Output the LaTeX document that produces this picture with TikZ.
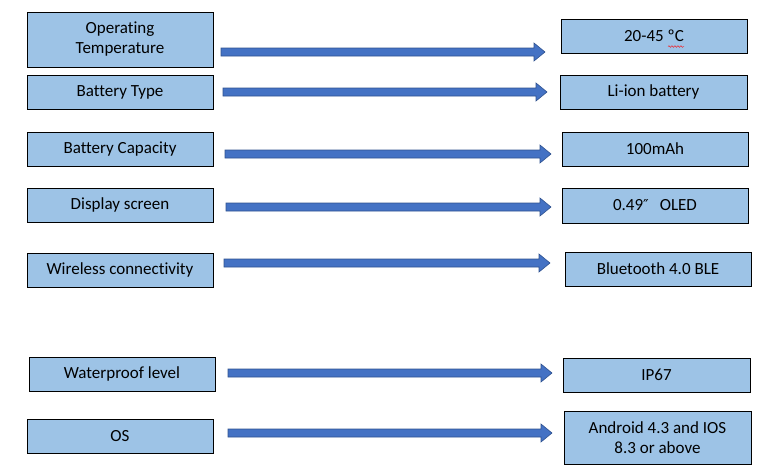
\documentclass[tikz,border=0pt]{standalone}
\usepackage{fontspec}
\setmainfont[Ligatures={NoCommon}]{Carlito}
\newfontfamily\symfont{DejaVu Sans}
\usetikzlibrary{calc,decorations.pathmorphing}
\definecolor{boxblue}{HTML}{9DC3E6}
\definecolor{arrowblue}{HTML}{4472C4}
\definecolor{arrowedge}{HTML}{2F528F}
\newcommand{\blockarrow}[2]{\draw[blockarrow] ($(#1)+(0,-4)$) -- ($(#2)+(-11,-4)$) -- ($(#2)+(-11,-9)$) -- (#2) -- ($(#2)+(-11,9)$) -- ($(#2)+(-11,4)$) -- ($(#1)+(0,4)$) -- cycle;}
\begin{document}
\begin{tikzpicture}[x=1pt,y=-1pt,
 box/.style={draw=black,line width=0.8pt,fill=boxblue,minimum width=186pt,minimum height=34pt,inner sep=0pt,align=center,font=\fontsize{17}{20}\selectfont},
 blockarrow/.style={fill=arrowblue,draw=arrowedge,line width=0.6pt,line join=miter}]
 \useasboundingbox (0,0) rectangle (779,474);
 \node[box,minimum height=55pt] (optemp) at (120,39.5) {Operating\\Temperature};
 \node[box] (battype) at (120,92) {Battery Type};
 \node[box] (batcap) at (120,149) {Battery Capacity};
 \node[box] (display) at (120,205) {Display screen};
 \node[box] (wireless) at (120,270) {Wireless connectivity};
 \node[box] (waterproof) at (122,374) {Waterproof level};
 \node[box] (os) at (120,436) {OS};
 \node[box] (tempval) at (654,36) {20-45 ºC};
 \node[box,minimum width=187pt] (typeval) at (653.5,92) {Li-ion battery};
 \node[box] (capval) at (655,149) {100mAh};
 \node[box,minimum height=35pt] (displayval) at (655,205.5) {0.49{\symfont\fontsize{15}{16}\selectfont″}\hspace{11pt}OLED};
 \node[box] (wirelessval) at (658,269) {Bluetooth 4.0 BLE};
 \node[box,minimum width=187pt] (waterval) at (656.5,375) {IP67};
 \node[box,minimum width=187pt,minimum height=53pt] (osval) at (657.5,437.5) {Android 4.3 and IOS\\8.3 or above};
 \draw[red,line width=0.4pt,decorate,decoration={snake,amplitude=0.8pt,segment length=3pt}] (668,46.5) -- (684,46.5);
 \coordinate (s1) at (221,52); \coordinate (e1) at (545,52);
 \coordinate (s2) at (223,92); \coordinate (e2) at (547,92);
 \coordinate (s3) at (225,154); \coordinate (e3) at (551,154);
 \coordinate (s4) at (226,207); \coordinate (e4) at (551,207);
 \coordinate (s5) at (224,263); \coordinate (e5) at (550,263);
 \coordinate (s6) at (228,373); \coordinate (e6) at (552,373);
 \coordinate (s7) at (228,433); \coordinate (e7) at (552,433);
 \blockarrow{s1}{e1}
 \blockarrow{s2}{e2}
 \blockarrow{s3}{e3}
 \blockarrow{s4}{e4}
 \blockarrow{s5}{e5}
 \blockarrow{s6}{e6}
 \blockarrow{s7}{e7}
\end{tikzpicture}
\end{document}
